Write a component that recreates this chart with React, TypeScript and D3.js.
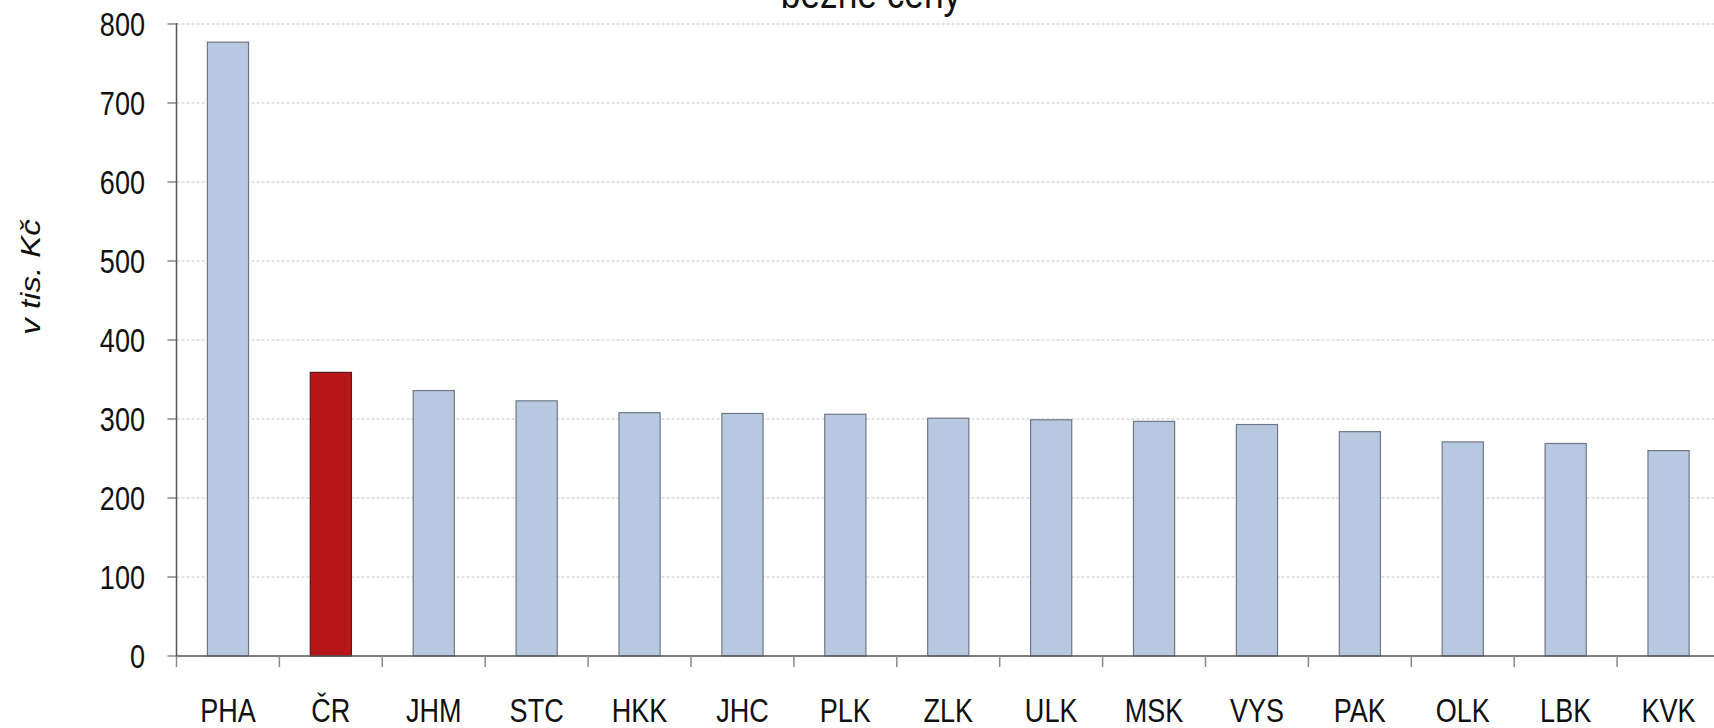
import React, { useEffect, useRef } from 'react';
import * as d3 from 'd3';

const categories = ['PHA', 'ČR', 'JHM', 'STC', 'HKK', 'JHC', 'PLK', 'ZLK', 'ULK', 'MSK', 'VYS', 'PAK', 'OLK', 'LBK', 'KVK'];
const values = [777, 359, 336, 323, 308, 307, 306, 301, 299, 297, 293, 284, 271, 269, 260];
const yTicks = [0, 100, 200, 300, 400, 500, 600, 700, 800];
const highlight = 'ČR';
const title = 'běžné ceny';
const yLabel = 'v tis. Kč';

const App = () => {
  const svgRef = useRef<SVGSVGElement>(null);

  useEffect(() => {
    const width = 1714;
    const height = 728;
    const left = 176.5;
    const step = 102.9;
    const top = 24;
    const bottom = 656;
    const font = '"Liberation Sans", Arial, sans-serif';
    const squeeze = 0.82;

    // Clear any old chart before rendering
    d3.select(svgRef.current).selectAll('*').remove();

    const svg = d3
      .select(svgRef.current)
      .attr('width', width)
      .attr('height', height)
      .style('display', 'block')
      .style('background', '#fff');

    const x = d3
      .scaleBand()
      .domain(categories)
      .range([left, left + step * categories.length])
      .paddingInner(0.6)
      .paddingOuter(0.3);

    const y = d3.scaleLinear().domain([0, 800]).range([bottom, top]);

    // gridlines
    svg.selectAll('line.grid')
      .data(yTicks.filter(t => t > 0))
      .enter()
      .append('line')
      .attr('x1', left)
      .attr('x2', width)
      .attr('y1', d => y(d))
      .attr('y2', d => y(d))
      .attr('stroke', '#d9d9d9')
      .attr('stroke-width', 1.5)
      .attr('stroke-dasharray', '3,2');

    // y tick marks + labels
    svg.selectAll('line.ytick')
      .data(yTicks)
      .enter()
      .append('line')
      .attr('x1', left - 9)
      .attr('x2', left)
      .attr('y1', d => y(d))
      .attr('y2', d => y(d))
      .attr('stroke', '#8a8a8a')
      .attr('stroke-width', 1.5);

    svg.selectAll('text.ylab')
      .data(yTicks)
      .enter()
      .append('text')
      .attr('transform', d => `translate(145, ${y(d) + 11.5}) scale(${squeeze}, 1)`)
      .attr('text-anchor', 'end')
      .style('font-family', font)
      .style('font-size', '33px')
      .attr('fill', '#111')
      .text(d => d);

    // bars
    svg.selectAll('rect.bar')
      .data(values)
      .enter()
      .append('rect')
      .attr('x', (d, i) => x(categories[i]) as number)
      .attr('y', d => y(d))
      .attr('width', x.bandwidth())
      .attr('height', d => bottom - y(d))
      .attr('fill', (d, i) => (categories[i] === highlight ? '#b71518' : '#b8c8e0'))
      .attr('stroke', (d, i) => (categories[i] === highlight ? '#5a1a1a' : '#6f7888'))
      .attr('stroke-width', 1.2);

    // axes lines
    svg.append('line')
      .attr('x1', left)
      .attr('x2', left)
      .attr('y1', top - 1)
      .attr('y2', bottom)
      .attr('stroke', '#555')
      .attr('stroke-width', 1.5);

    svg.append('line')
      .attr('x1', left)
      .attr('x2', width)
      .attr('y1', bottom)
      .attr('y2', bottom)
      .attr('stroke', '#555')
      .attr('stroke-width', 1.5);

    // x ticks at band boundaries
    svg.selectAll('line.xtick')
      .data(d3.range(categories.length + 1))
      .enter()
      .append('line')
      .attr('x1', i => left + i * step)
      .attr('x2', i => left + i * step)
      .attr('y1', bottom)
      .attr('y2', bottom + 11)
      .attr('stroke', '#8a8a8a')
      .attr('stroke-width', 1.5);

    svg.selectAll('text.xlab')
      .data(categories)
      .enter()
      .append('text')
      .attr('transform', d => `translate(${(x(d) as number) + x.bandwidth() / 2}, 722) scale(${squeeze}, 1)`)
      .attr('text-anchor', 'middle')
      .style('font-family', font)
      .style('font-size', '33px')
      .attr('fill', '#111')
      .text(d => d);

    // y axis title
    svg.append('text')
      .attr('transform', `translate(40, 277) rotate(-90) scale(1, ${squeeze})`)
      .attr('text-anchor', 'middle')
      .style('font-family', font)
      .style('font-size', '33px')
      .style('font-style', 'italic')
      .attr('fill', '#111')
      .text(yLabel);

    // chart title (cut off at the top, as in the source)
    svg.append('text')
      .attr('transform', `translate(871, 8) scale(${squeeze}, 1)`)
      .attr('text-anchor', 'middle')
      .style('font-family', font)
      .style('font-size', '43px')
      .attr('fill', '#111')
      .text(title);
  }, []);

  return (
    <div>
      <style>{'body { margin: 0; }'}</style>
      <svg ref={svgRef}></svg>
    </div>
  );
};

export default App;
